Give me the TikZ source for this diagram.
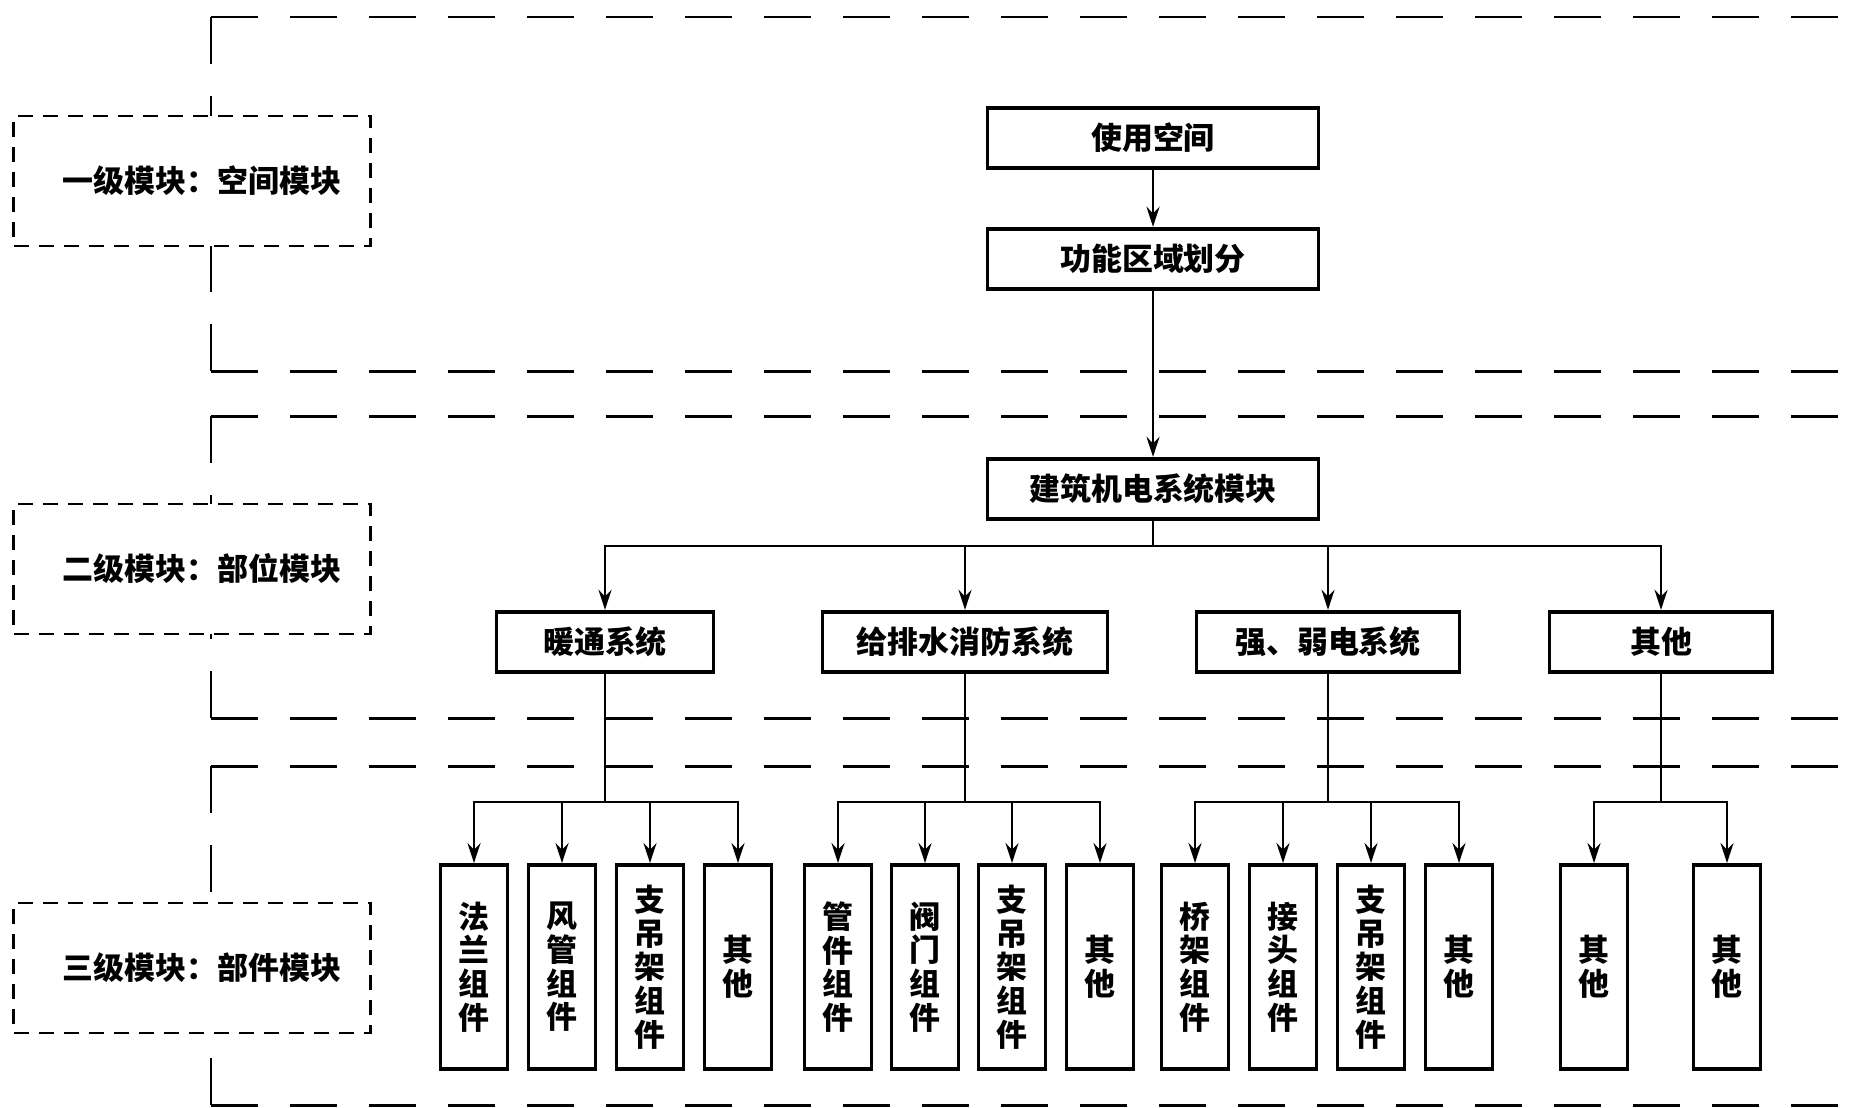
\documentclass[tikz,border=0pt]{standalone}
\usepackage{fontspec}
\setmainfont{Noto Sans CJK SC}
\usetikzlibrary{arrows.meta,positioning}

\begin{document}
\begin{tikzpicture}[x=0.1mm,y=-0.1mm,
  every node/.style={font=\bfseries\fontsize{8.8}{9.6}\selectfont},
  region/.style={line width=0.85pt,dash pattern=on 4.7mm off 3.2mm},
  level/.style={draw,line width=0.7pt,dash pattern=on 1.5mm off 1mm,fill=white,minimum width=35.7mm,minimum height=13mm,
    execute at begin node=\hspace{2mm}},
  box/.style={draw,line width=1.1pt,fill=white,inner sep=0pt,minimum height=6.05mm},
  part/.style={draw,line width=1.1pt,fill=white,inner sep=0pt,minimum width=6.7mm,minimum height=20.4mm,align=center},
  arr/.style={line width=0.7pt,-{Stealth[length=2mm,width=1.3mm]}}]
\useasboundingbox (0,0) rectangle (1863,1107);

% dashed level regions
\foreach \t/\b in {17/371,416/718,766/1105}{
  \draw[region] (211,\t) -- (1863,\t);
  \draw[region] (211,\b) -- (1863,\b);
  \draw[region] (211,\t) -- (211,{(\t+\b)/2});
  \draw[region] (211,\b) -- (211,{(\t+\b)/2});
}
\node[level] (lv1) at (192,181) {一级模块：空间模块};
\node[level] (lv2) at (192,569) {二级模块：部位模块};
\node[level] (lv3) at (192,968) {三级模块：部件模块};

% level 1
\node[box,minimum width=33.1mm] (space) at (1153,138) {使用空间};
\node[box,minimum width=33.1mm] (zone) at (1153,259) {功能区域划分};

% level 2
\node[box,minimum width=33.1mm] (mep) at (1153,489) {建筑机电系统模块};
\coordinate (bus2) at (0,546);
\coordinate (bus3) at (0,802);
\node[box,minimum width=21.7mm] (hvac) at (605,642) {暖通系统};
\node[box,minimum width=28.5mm] (water) at (965,642) {给排水消防系统};
\node[box,minimum width=26.3mm] (elec) at (1328,642) {强、弱电系统};
\node[box,minimum width=22.3mm] (other) at (1661,642) {其他};

% level 3
\node[part] (h1) at (474,967) {法\\兰\\组\\件};
\node[part] (h2) at (562,967) {风\\管\\组\\件};
\node[part] (h3) at (650,967) {支\\吊\\架\\组\\件};
\node[part] (h4) at (738,967) {其\\他};
\node[part] (w1) at (838,967) {管\\件\\组\\件};
\node[part] (w2) at (925,967) {阀\\门\\组\\件};
\node[part] (w3) at (1012,967) {支\\吊\\架\\组\\件};
\node[part] (w4) at (1100,967) {其\\他};
\node[part] (e1) at (1195,967) {桥\\架\\组\\件};
\node[part] (e2) at (1283,967) {接\\头\\组\\件};
\node[part] (e3) at (1371,967) {支\\吊\\架\\组\\件};
\node[part] (e4) at (1459,967) {其\\他};
\node[part] (o1) at (1594,967) {其\\他};
\node[part] (o2) at (1727,967) {其\\他};

% connectors
\draw[arr] (space) -- (zone);
\draw[arr] (zone) -- (mep);
\foreach \n in {hvac,water,elec,other}
  \draw[arr] (mep.south) -- (mep.south |- bus2) -| (\n.north);
\foreach \p/\c in {hvac/h1,hvac/h2,hvac/h3,hvac/h4,water/w1,water/w2,water/w3,water/w4,
                   elec/e1,elec/e2,elec/e3,elec/e4,other/o1,other/o2}
  \draw[arr] (\p.south) -- (\p.south |- bus3) -| (\c.north);
\end{tikzpicture}
\end{document}
